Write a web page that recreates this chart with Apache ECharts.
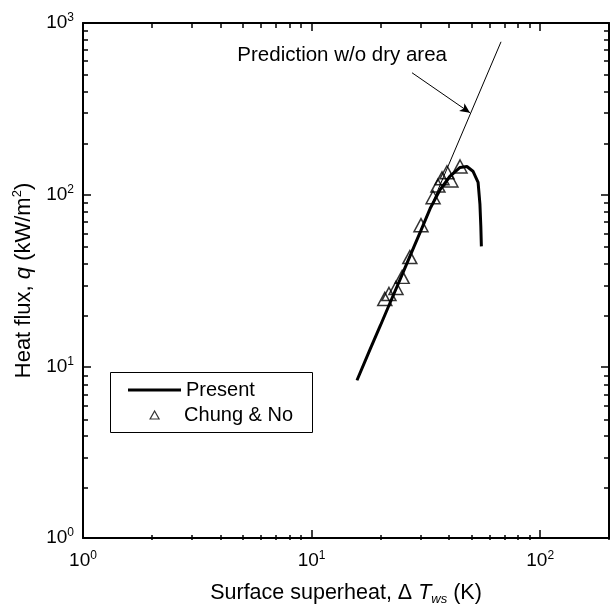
<!DOCTYPE html>
<html><head><meta charset="utf-8">
<script src="https://cdn.jsdelivr.net/npm/echarts@6/dist/echarts.min.js"></script>
<style>html,body{margin:0;padding:0;background:#fff}#c{width:612px;height:611px}</style>
</head><body><div id="c"></div>
<script>
// ---- data ----
const presentX = [15.8, 18, 20, 22, 25, 28, 30, 33, 36.5, 40.3, 44.6, 47.8, 50.8, 53.5, 54.5, 55.0, 55.3];
const presentY = [8.3, 12.5, 17.3, 23.3, 34.7, 49.5, 61.3, 83, 107, 128, 144, 146, 137, 118, 88, 65, 50];
const predictionX = [15.8, 67.4];
const predictionY = [8.3, 777];
const chungX = [20.9, 21.8, 23.4, 24.9, 26.9, 30.1, 34.0, 35.7, 37.2, 39.1, 40.7, 44.6];
const chungY = [24.7, 26.4, 28.6, 33.2, 43.3, 66.4, 96.6, 113, 124.5, 135, 121, 146];
const arrowFrom = [27.5, 513];
const arrowTo = [49.3, 300];
const xMajorTicks = [1, 10, 100];
const xMinorTicks = [2, 3, 4, 5, 6, 7, 8, 9, 20, 30, 40, 50, 60, 70, 80, 90, 200];
const yMajorTicks = [1, 10, 100, 1000];
const yMinorTicks = [2, 3, 4, 5, 6, 7, 8, 9, 20, 30, 40, 50, 60, 70, 80, 90, 200, 300, 400, 500, 600, 700, 800, 900];
const xRange = [1, 200];
const yRange = [1, 1000];

const FF = '"Liberation Sans", Arial, sans-serif';
const zip = (a, b) => a.map((v, i) => [v, b[i]]);
const powFmt = v => '{b|10}{s|' + Math.round(Math.log10(v)) + '}';
const powRich = {
  b: { fontSize: 19, fontFamily: FF, color: '#000', lineHeight: 22 },
  s: { fontSize: 12, fontFamily: FF, color: '#000', verticalAlign: 'top', lineHeight: 12 }
};

function logAxis(range, pos, ticks, len, major, gridIndex, labelMargin) {
  return {
    type: 'log', logBase: 10, min: range[0], max: range[1], position: pos, gridIndex: gridIndex,
    axisLine: { show: major, lineStyle: { color: '#000', width: 2 } },
    axisTick: { show: true, inside: true, length: len, customValues: ticks, lineStyle: { color: '#000', width: 1.5 } },
    axisLabel: major && labelMargin != null
      ? { show: true, customValues: ticks, formatter: powFmt, rich: powRich, margin: labelMargin }
      : { show: false },
    splitLine: { show: false },
    minorTick: { show: false }
  };
}

const x0 = logAxis(xRange, 'bottom', xMajorTicks, 8, true, 0, 12);
x0.name = 'Surface superheat, \u0394 {i|T}{sub|ws} (K)';
x0.nameLocation = 'middle';
x0.nameGap = 43;
x0.nameTextStyle = {
  fontSize: 21.5, fontFamily: FF, color: '#000',
  rich: {
    i: { fontSize: 21.5, fontFamily: FF, fontStyle: 'italic', color: '#000', lineHeight: 25 },
    sub: { fontSize: 13, fontFamily: FF, fontStyle: 'italic', color: '#000', verticalAlign: 'bottom', lineHeight: 13 }
  }
};
const y0 = logAxis(yRange, 'left', yMajorTicks, 8, true, 0, 9);
y0.name = 'Heat flux, {i|q} (kW/m{s|2})';
y0.nameLocation = 'middle';
y0.nameGap = 40;
y0.nameTextStyle = {
  fontSize: 22, fontFamily: FF, color: '#000',
  rich: {
    i: { fontSize: 22, fontFamily: FF, fontStyle: 'italic', color: '#000', lineHeight: 26 },
    s: { fontSize: 13, fontFamily: FF, color: '#000', verticalAlign: 'top', lineHeight: 13 }
  }
};

const option = {
  animation: false,
  backgroundColor: '#fff',
  grid: [
    { left: 83, right: 3, top: 23, bottom: 71, containLabel: false },
    { left: 83, right: 3, top: 23, bottom: 71, containLabel: false }
  ],
  xAxis: [
    x0,
    logAxis(xRange, 'top', xMajorTicks, 8, true, 0, null),
    logAxis(xRange, 'bottom', xMinorTicks, 5, false, 1, null),
    logAxis(xRange, 'top', xMinorTicks, 5, false, 1, null)
  ],
  yAxis: [
    y0,
    logAxis(yRange, 'right', yMajorTicks, 8, true, 0, null),
    logAxis(yRange, 'left', yMinorTicks, 5, false, 1, null),
    logAxis(yRange, 'right', yMinorTicks, 5, false, 1, null)
  ],
  legend: [
    {
      data: [{ name: 'Present', icon: 'rect' }],
      left: 128, top: 380, padding: 0, itemWidth: 53, itemHeight: 3, selectedMode: false,
      itemStyle: { color: '#000' },
      textStyle: { fontSize: 20, fontFamily: FF, color: '#000', lineHeight: 20 }
    },
    {
      data: [{ name: 'Chung & No', icon: 'triangle' }],
      left: 149.5, top: 405, padding: 0, itemWidth: 9, itemHeight: 8, selectedMode: false,
      itemStyle: { color: 'rgba(0,0,0,0)', borderColor: '#000', borderWidth: 1.2 },
      textStyle: { fontSize: 20, fontFamily: FF, color: '#000', lineHeight: 20, padding: [0, 0, 0, 20] }
    }
  ],
  graphic: [
    { type: 'rect', shape: { x: 110.5, y: 372.5, width: 202, height: 60 }, style: { fill: 'none', stroke: '#000', lineWidth: 1 }, z: 10 },
    { type: 'text', x: 447, y: 55, style: { text: 'Prediction w/o dry area', font: '20.5px ' + FF, fill: '#000', align: 'right', verticalAlign: 'middle', textAlign: 'right', textVerticalAlign: 'middle' }, z: 10 }
  ],
  series: [
    {
      name: 'Present', type: 'line', xAxisIndex: 0, yAxisIndex: 0,
      data: zip(presentX, presentY), symbol: 'none', showSymbol: false,
      color: '#000', lineStyle: { color: '#000', width: 3 }, z: 3
    },
    {
      name: 'Prediction w/o dry area', type: 'line', xAxisIndex: 0, yAxisIndex: 0,
      data: zip(predictionX, predictionY), symbol: 'none', showSymbol: false,
      color: '#000', lineStyle: { color: '#000', width: 1 }, z: 2,
      markLine: {
        silent: true, symbol: ['none', 'arrow'], symbolSize: [8, 10],
        itemStyle: { color: '#000' },
        lineStyle: { color: '#000', width: 1, type: 'solid' },
        label: { show: false },
        emphasis: { disabled: true },
        data: [[{ coord: arrowFrom, symbol: 'none' }, { coord: arrowTo, symbol: 'arrow', symbolSize: [7, 10] }]]
      }
    },
    {
      name: 'Chung & No', type: 'scatter', xAxisIndex: 0, yAxisIndex: 0,
      data: zip(chungX, chungY), symbol: 'triangle', symbolSize: [14, 13],
      itemStyle: { color: 'rgba(0,0,0,0)', borderColor: '#000', borderWidth: 1.5 }, z: 4
    }
  ]
};
const chart = echarts.init(document.getElementById('c'), null, { renderer: 'canvas' });
chart.setOption(option);
</script>
</body></html>
